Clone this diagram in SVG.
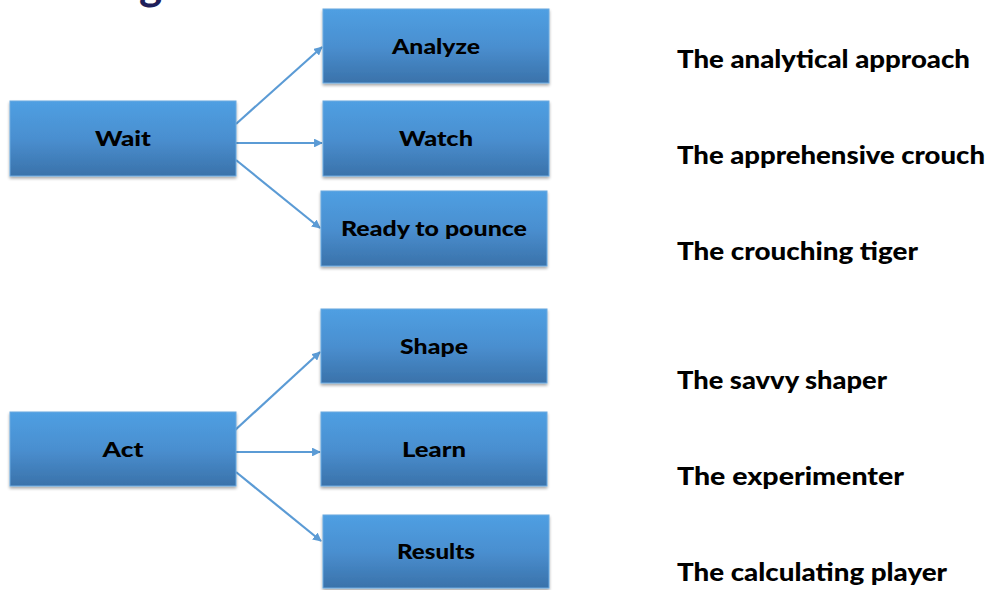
<svg xmlns="http://www.w3.org/2000/svg" width="988" height="590" viewBox="0 0 988 590">
<defs>
<linearGradient id="boxGrad" x1="0" y1="0" x2="0" y2="1">
<stop offset="0" stop-color="#4f9fe2"/>
<stop offset="0.5" stop-color="#4a8fd0"/>
<stop offset="1" stop-color="#3a72aa"/>
</linearGradient>
<filter id="shadow" x="-5%" y="-10%" width="110%" height="130%">
<feGaussianBlur in="SourceAlpha" stdDeviation="1.5"/>
<feOffset dx="0" dy="2" result="b"/>
<feComponentTransfer><feFuncA type="linear" slope="0.35"/></feComponentTransfer>
<feMerge><feMergeNode/><feMergeNode in="SourceGraphic"/></feMerge>
</filter>
<marker id="arrow" viewBox="0 0 10 10" refX="9" refY="5" markerWidth="4" markerHeight="4" orient="auto" markerUnits="strokeWidth">
<path d="M0,0 L10,5 L0,10 z" fill="#5b9bd5"/>
</marker>
</defs>
<style>
.box{fill:url(#boxGrad);stroke:#6aaae0;stroke-width:1;filter:url(#shadow);}
.lbl{font-family:Lato,"Open Sans","Liberation Sans",sans-serif;font-weight:900;font-size:21px;fill:#000;text-anchor:middle;}
.side{font-family:Lato,"Open Sans","Liberation Sans",sans-serif;font-weight:900;font-size:24px;fill:#000;}
.conn{stroke:#5b9bd5;stroke-width:2.2;fill:none;marker-end:url(#arrow);}
.title{font-family:Lato,"Open Sans","Liberation Sans",sans-serif;font-weight:bold;font-size:44px;fill:#1f1f5a;}
</style>
<rect width="988" height="590" fill="#ffffff"/>
<text class="title" x="139" y="0">g</text>
<g id="connectors">
<line class="conn" x1="236" y1="124" x2="322" y2="47"/>
<line class="conn" x1="236" y1="143" x2="322" y2="143"/>
<line class="conn" x1="236" y1="160" x2="320" y2="228"/>
<line class="conn" x1="233" y1="432" x2="320" y2="352"/>
<line class="conn" x1="233" y1="452" x2="320" y2="452"/>
<line class="conn" x1="236" y1="472" x2="321" y2="541"/>
</g>
<g id="node-wait"><rect class="box" x="10" y="101" width="226" height="75"/><text class="lbl" x="123" y="146" textLength="56" lengthAdjust="spacingAndGlyphs">Wait</text></g>
<g id="node-analyze"><rect class="box" x="323" y="9" width="226" height="74"/><text class="lbl" x="436" y="54" textLength="88" lengthAdjust="spacingAndGlyphs">Analyze</text></g>
<g id="node-watch"><rect class="box" x="323" y="101" width="226" height="75"/><text class="lbl" x="436" y="146" textLength="74" lengthAdjust="spacingAndGlyphs">Watch</text></g>
<g id="node-ready"><rect class="box" x="321" y="191" width="226" height="75"/><text class="lbl" x="434" y="236" textLength="186" lengthAdjust="spacingAndGlyphs">Ready to pounce</text></g>
<g id="node-act"><rect class="box" x="10" y="412" width="226" height="74"/><text class="lbl" x="123" y="457" textLength="41" lengthAdjust="spacingAndGlyphs">Act</text></g>
<g id="node-shape"><rect class="box" x="321" y="309" width="226" height="74"/><text class="lbl" x="434" y="354" textLength="68" lengthAdjust="spacingAndGlyphs">Shape</text></g>
<g id="node-learn"><rect class="box" x="321" y="412" width="226" height="74"/><text class="lbl" x="434" y="457" textLength="64" lengthAdjust="spacingAndGlyphs">Learn</text></g>
<g id="node-results"><rect class="box" x="323" y="515" width="226" height="73"/><text class="lbl" x="436" y="559" textLength="78" lengthAdjust="spacingAndGlyphs">Results</text></g>
<g id="side-labels">
<text class="side" x="677" y="68" textLength="293" lengthAdjust="spacingAndGlyphs">The analytical approach</text>
<text class="side" x="677" y="164" textLength="308" lengthAdjust="spacingAndGlyphs">The apprehensive crouch</text>
<text class="side" x="677" y="260" textLength="241" lengthAdjust="spacingAndGlyphs">The crouching tiger</text>
<text class="side" x="677" y="389" textLength="210" lengthAdjust="spacingAndGlyphs">The savvy shaper</text>
<text class="side" x="677" y="485" textLength="227" lengthAdjust="spacingAndGlyphs">The experimenter</text>
<text class="side" x="677" y="581" textLength="270" lengthAdjust="spacingAndGlyphs">The calculating player</text>
</g>
</svg>
